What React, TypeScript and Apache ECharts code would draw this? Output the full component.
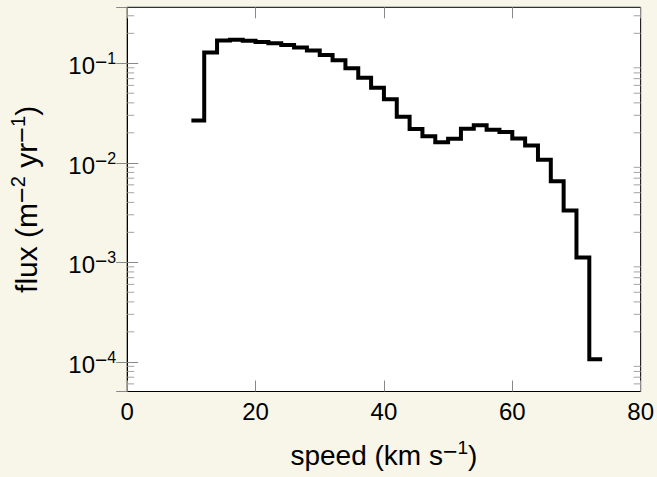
import React, { useEffect, useRef } from 'react';
import * as echarts from 'echarts';

// Bin edges of the speed histogram (km/s)
const binEdges = [10, 12, 14, 16, 18, 20, 22, 24, 26, 28, 30, 32, 34, 36, 38, 40, 42, 44, 46, 48, 50, 52, 54, 56, 58, 60, 62, 64, 66, 68, 70, 72, 74];
// Flux per bin (m^-2 yr^-1)
const fluxValues = [
  0.0266, 0.128, 0.169, 0.172, 0.168, 0.164, 0.159, 0.153, 0.144, 0.134,
  0.121, 0.107, 0.0892, 0.0715, 0.0569, 0.0436, 0.029, 0.0218, 0.0185, 0.0161,
  0.0174, 0.022, 0.0238, 0.0215, 0.0204, 0.0175, 0.0149, 0.0107, 0.00652, 0.00331,
  0.00112, 0.000106,
];
const xTicks = [0, 20, 40, 60, 80];
const yDecades = [1e-5, 1e-4, 1e-3, 1e-2, 1e-1];
const minorMultipliers = [2, 3, 4, 5, 6, 7, 8, 9];
const xRange = [0, 80];
const yRange = [5.03e-5, 0.365];

const FONT = '"Liberation Sans", Arial, sans-serif';
const BG = '#f7f6e8';

const tickRich = {
  b: { fontSize: 24, lineHeight: 30, fontFamily: FONT, color: '#000' },
  m: { fontSize: 21, lineHeight: 16.6, verticalAlign: 'top', fontFamily: FONT, color: '#000' },
  s: { fontSize: 16, lineHeight: 16.6, verticalAlign: 'top', fontFamily: FONT, color: '#000' },
};
const xTitleRich = {
  b: { fontSize: 28, lineHeight: 34, fontFamily: FONT, color: '#000' },
  m: { fontSize: 25, lineHeight: 18.4, verticalAlign: 'top', fontFamily: FONT, color: '#000' },
  s: { fontSize: 19, lineHeight: 18.4, verticalAlign: 'top', fontFamily: FONT, color: '#000' },
};
const yTitleRich = {
  b: { fontSize: 30, lineHeight: 36, fontFamily: FONT, color: '#000' },
  m: { fontSize: 27, lineHeight: 19.2, verticalAlign: 'top', fontFamily: FONT, color: '#000' },
  s: { fontSize: 20, lineHeight: 19.2, verticalAlign: 'top', fontFamily: FONT, color: '#000' },
};

export default function App() {
  const ref = useRef<HTMLDivElement>(null);
  useEffect(() => {
    if (!ref.current) return;
    const chart = echarts.init(ref.current, null, { renderer: 'svg' });
    const minorTicks: number[] = [];
    yDecades.forEach((d) => minorMultipliers.forEach((m) => {
      const v = d * m;
      if (v > yRange[0] && v < yRange[1]) minorTicks.push(v);
    }));
    const lineData = binEdges.map((x, i) => [x, fluxValues[Math.min(i, fluxValues.length - 1)]]);
    const yLabel = (v: number) => {
      const l = Math.log10(v);
      const e = Math.round(l);
      if (Math.abs(l - e) > 1e-6) return '';
      return `{b|10}{m|−}{s|${-e}}`;
    };
    const option: any = {
      animation: false,
      backgroundColor: BG,
      textStyle: { fontFamily: FONT },
      grid: {
        left: 126.7, top: 7.3, width: 516, height: 389.4,
        show: true, backgroundColor: '#fff', borderColor: '#000', borderWidth: 1,
      },
      xAxis: [
        {
          type: 'value', min: xRange[0], max: xRange[1], interval: xTicks[1] - xTicks[0], position: 'bottom',
          axisLine: { show: true, lineStyle: { color: '#000', width: 1 } },
          axisTick: { show: true, inside: true, length: 11, lineStyle: { color: '#888', width: 1 } },
          axisLabel: { show: true, margin: 8, fontSize: 24, color: '#000', fontFamily: FONT },
          splitLine: { show: false },
          name: '{b|speed (km s}{m|−}{s|1}{b|)}',
          nameLocation: 'middle', nameGap: 46.5,
          nameTextStyle: { fontSize: 28, lineHeight: 34, color: '#000', fontFamily: FONT, rich: xTitleRich },
        },
        {
          type: 'value', min: xRange[0], max: xRange[1], interval: xTicks[1] - xTicks[0], position: 'top',
          axisLine: { show: false },
          axisTick: { show: true, inside: true, length: 11, lineStyle: { color: '#888', width: 1 } },
          axisLabel: { show: false },
          splitLine: { show: false },
        },
      ],
      yAxis: [
        {
          type: 'log', logBase: 10, min: yRange[0], max: yRange[1], position: 'left',
          axisLine: { show: true, lineStyle: { color: '#000', width: 1 } },
          axisTick: { show: true, inside: true, length: 11, lineStyle: { color: '#888', width: 1 } },
          axisLabel: {
            show: true, margin: 11, formatter: yLabel, rich: tickRich,
            padding: [5, 0, 0, 0], showMinLabel: false, showMaxLabel: false,
          },
          splitLine: { show: false },
          name: '{b|flux (m}{m|−}{s|2}{b| yr}{m|−}{s|1}{b|)}',
          nameLocation: 'middle', nameRotate: 90, nameGap: 83.2,
          nameTextStyle: { fontSize: 30, lineHeight: 36, color: '#000', fontFamily: FONT, rich: yTitleRich },
        },
        {
          type: 'log', logBase: 10, min: yRange[0], max: yRange[1], position: 'right',
          axisLine: { show: false },
          axisTick: { show: true, inside: true, length: 11, lineStyle: { color: '#888', width: 1 } },
          axisLabel: { show: false },
          splitLine: { show: false },
        },
      ],
      series: [
        {
          type: 'custom',
          xAxisIndex: 0, yAxisIndex: 0,
          silent: true,
          encode: { x: 0, y: 1 },
          data: minorTicks.map((v) => [xRange[0], v]),
          renderItem: (params: any, api: any) => {
            const v = api.value(1);
            const pl = api.coord([xRange[0], v]);
            const pr = api.coord([xRange[1], v]);
            const st = { stroke: '#a3a3a3', lineWidth: 1 };
            return {
              type: 'group',
              children: [
                { type: 'line', shape: { x1: pl[0], y1: pl[1], x2: pl[0] + 7, y2: pl[1] }, style: st },
                { type: 'line', shape: { x1: pr[0] - 7, y1: pr[1], x2: pr[0], y2: pr[1] }, style: st },
              ],
            };
          },
        },
        {
          type: 'line',
          step: 'end',
          data: lineData,
          symbol: 'none',
          showSymbol: false,
          silent: true,
          lineStyle: { color: '#000', width: 4, join: 'miter', cap: 'butt' },
          z: 5,
        },
      ],
    };
    chart.setOption(option);
    return () => chart.dispose();
  }, []);
  return (
    <div
      ref={ref}
      style={{ position: 'fixed', left: 0, top: 0, width: 657, height: 477, background: BG }}
    />
  );
}
